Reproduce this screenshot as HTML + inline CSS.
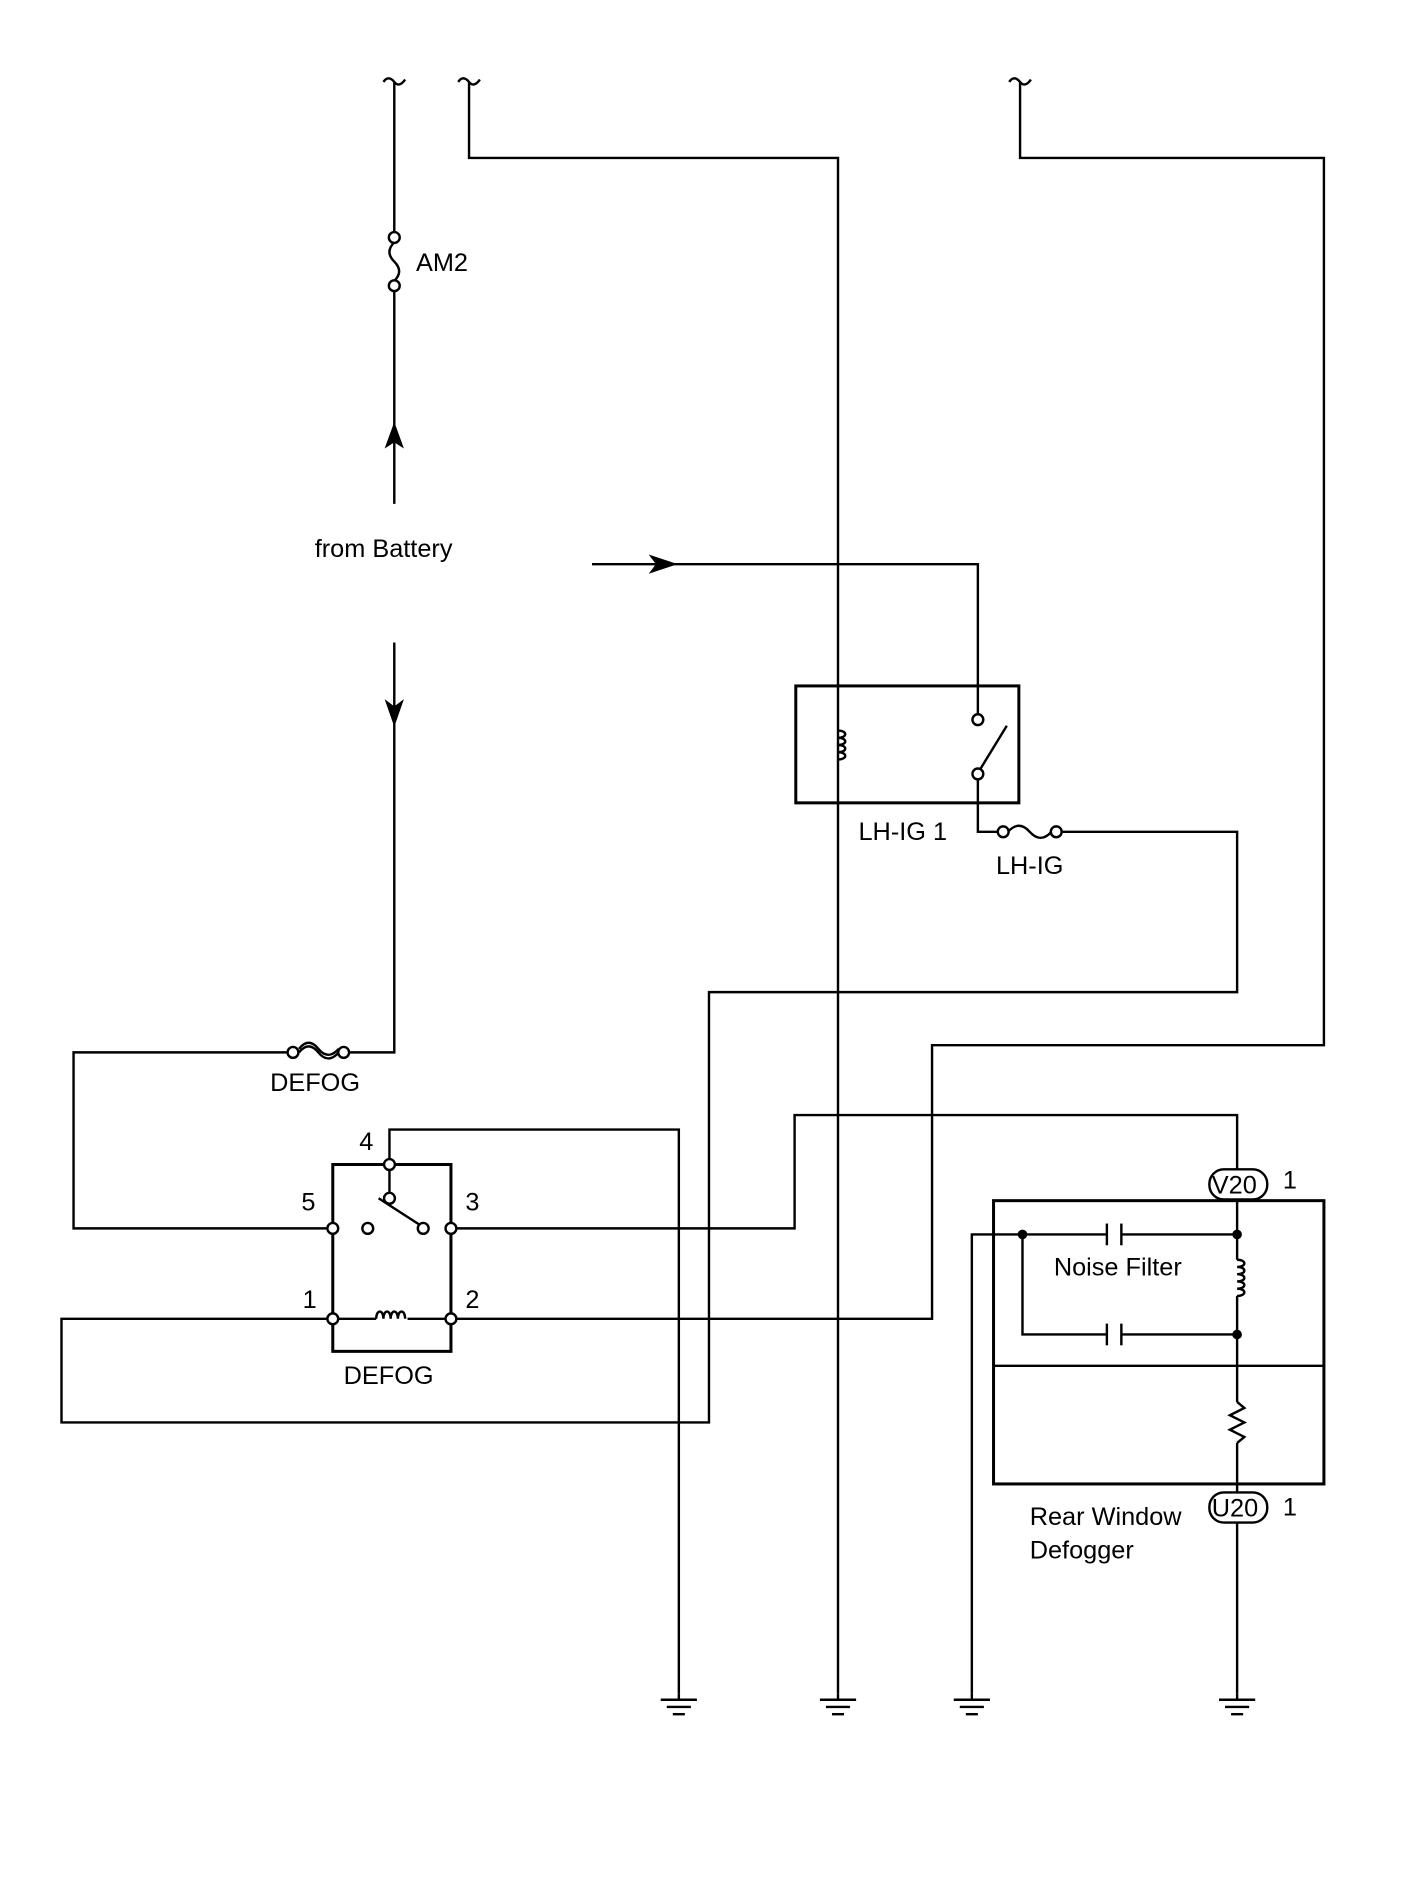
<!DOCTYPE html>
<html><head><meta charset="utf-8"><style>
html,body{margin:0;padding:0;background:#fff;}
svg{display:block;}
text{font-family:"Liberation Sans",sans-serif;font-size:21px;fill:#000;}
</style></head><body>
<svg width="1424" height="1889" viewBox="0 0 1181 1567" preserveAspectRatio="none" xmlns="http://www.w3.org/2000/svg">
<g fill="none" stroke="#000" stroke-width="2">
<path d="M318,68 q4,-6 9,0 q4,5 9,-2"/>
<path d="M380,68 q4,-6 9,0 q4,5 9,-2"/>
<path d="M837,68 q4,-6 9,0 q4,5 9,-2"/>
<line x1="327" y1="68" x2="327" y2="193"/>
<circle cx="327" cy="197" r="4.5" fill="#fff"/>
<circle cx="327" cy="237" r="4.5" fill="#fff"/>
<path d="M327,201 q-8,8 0,16 q8,8 0,16"/>
<line x1="327" y1="241" x2="327" y2="418"/>
<line x1="327" y1="533" x2="327" y2="600"/>
<polyline points="327,600 327,873 289,873"/>
<circle cx="285" cy="873" r="4.5" fill="#fff"/>
<circle cx="243" cy="873" r="4.5" fill="#fff"/>
<path d="M248,873 q8,-10 16,0 q8,10 17,0"/>
<path d="M248,870 q8,-10 16,0 q8,10 17,0"/>
<polyline points="239,873 61,873 61,1019 272,1019"/>
<polyline points="389,68 389,131 695,131 695,1405"/>
<polyline points="491,468 811,468 811,593"/>
<rect x="660" y="569" width="185" height="97" stroke-width="2.5"/>
<path d="M695,606 c8,0 8,6 0,6 c8,0 8,6 0,6 c8,0 8,6 0,6 c8,0 8,6 0,6"/>
<circle cx="811" cy="597" r="4.5" fill="#fff"/>
<circle cx="811" cy="642" r="4.5" fill="#fff"/>
<line x1="813" y1="638" x2="835" y2="602"/>
<polyline points="811,646 811,690 828,690"/>
<circle cx="832" cy="690" r="4.5" fill="#fff"/>
<circle cx="876" cy="690" r="4.5" fill="#fff"/>
<path d="M836,690 q9,-10 18,0 q9,10 18,0"/>
<polyline points="880,690 1026,690 1026,823 588,823 588,1180 51,1180 51,1094 272,1094"/>
<polyline points="846,68 846,131 1098,131 1098,867 773,867 773,1094 378,1094"/>
<rect x="276" y="966" width="98" height="155" stroke-width="2.5"/>
<polyline points="323,962 323,937 563,937 563,1405"/>
<line x1="323" y1="970" x2="323" y2="990"/>
<circle cx="323" cy="966" r="4.5" fill="#fff"/>
<circle cx="323" cy="994" r="4.5" fill="#fff"/>
<line x1="314" y1="994" x2="348" y2="1016"/>
<circle cx="305" cy="1019" r="4.5" fill="#fff"/>
<circle cx="351" cy="1019" r="4.5" fill="#fff"/>
<circle cx="276" cy="1019" r="4.5" fill="#fff"/>
<circle cx="374" cy="1019" r="4.5" fill="#fff"/>
<circle cx="276" cy="1094" r="4.5" fill="#fff"/>
<circle cx="374" cy="1094" r="4.5" fill="#fff"/>
<line x1="280" y1="1094" x2="312" y2="1094"/>
<line x1="338" y1="1094" x2="370" y2="1094"/>
<path d="M312,1094 c0,-8 6,-8 6,0 c0,-8 6,-8 6,0 c0,-8 6,-8 6,0 c0,-8 6,-8 6,0"/>
<polyline points="378,1019 659,1019 659,925 1026,925 1026,970"/>
<rect x="1003" y="970" width="48" height="25" rx="12"/>
<rect x="1003" y="1238" width="48" height="25" rx="12"/>
<rect x="824" y="996" width="274" height="235" stroke-width="2.5"/>
<line x1="824" y1="1133" x2="1098" y2="1133"/>
<line x1="1026" y1="995" x2="1026" y2="1045"/>
<path d="M1026,1045 c8,0 8,6 0,6 c8,0 8,6 0,6 c8,0 8,6 0,6 c8,0 8,6 0,6 c8,0 8,6 0,6"/>
<line x1="1026" y1="1075" x2="1026" y2="1163"/>
<polyline points="1026,1163 1032,1168 1020,1174 1032,1180 1020,1186 1032,1192 1026,1197"/>
<line x1="1026" y1="1197" x2="1026" y2="1238"/>
<line x1="1026" y1="1263" x2="1026" y2="1405"/>
<polyline points="1026,1024 930,1024"/>
<polyline points="918,1024 806,1024 806,1405"/>
<line x1="918" y1="1015" x2="918" y2="1033"/>
<line x1="930" y1="1015" x2="930" y2="1033"/>
<polyline points="848,1024 848,1107 918,1107"/>
<line x1="930" y1="1107" x2="1026" y2="1107"/>
<line x1="918" y1="1098" x2="918" y2="1116"/>
<line x1="930" y1="1098" x2="930" y2="1116"/>
<line x1="548" y1="1410" x2="578" y2="1410"/><line x1="553" y1="1416" x2="573" y2="1416"/><line x1="558" y1="1422" x2="568" y2="1422"/>
<line x1="680" y1="1410" x2="710" y2="1410"/><line x1="685" y1="1416" x2="705" y2="1416"/><line x1="690" y1="1422" x2="700" y2="1422"/>
<line x1="791" y1="1410" x2="821" y2="1410"/><line x1="796" y1="1416" x2="816" y2="1416"/><line x1="801" y1="1422" x2="811" y2="1422"/>
<line x1="1011" y1="1410" x2="1041" y2="1410"/><line x1="1016" y1="1416" x2="1036" y2="1416"/><line x1="1021" y1="1422" x2="1031" y2="1422"/>
<line x1="563" y1="1405" x2="563" y2="1410"/>
<line x1="695" y1="1405" x2="695" y2="1410"/>
<line x1="806" y1="1405" x2="806" y2="1410"/>
<line x1="1026" y1="1405" x2="1026" y2="1410"/>
</g>
<g fill="#000">
<polygon points="327,350 319,372 327,367 335,372"/>
<polygon points="327,603 319,580 327,586 335,580"/>
<polygon points="562,468 538,460 544,468 538,476"/>
<circle cx="848" cy="1024" r="4"/>
<circle cx="1026" cy="1024" r="4"/>
<circle cx="1026" cy="1107" r="4"/>
</g>
<text x="345" y="225">AM2</text>
<text x="261" y="462">from Battery</text>
<text x="712" y="697">LH-IG 1</text>
<text x="826" y="725">LH-IG</text>
<text x="224" y="905">DEFOG</text>
<text x="298" y="954">4</text>
<text x="250" y="1004">5</text>
<text x="386" y="1004">3</text>
<text x="251" y="1085">1</text>
<text x="386" y="1085">2</text>
<text x="285" y="1148">DEFOG</text>
<text x="1005" y="990">V20</text>
<text x="1064" y="986">1</text>
<text x="1005" y="1258">U20</text>
<text x="1064" y="1257">1</text>
<text x="874" y="1058">Noise Filter</text>
<text x="854" y="1265">Rear Window</text>
<text x="854" y="1293">Defogger</text>
</svg>
</body></html>
